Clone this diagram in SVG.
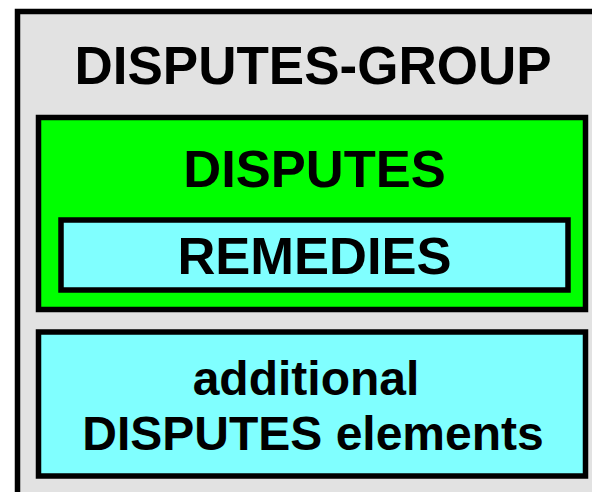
<svg xmlns="http://www.w3.org/2000/svg" width="592" height="492" viewBox="0 0 592 492">
<style>
.box{stroke:#000;stroke-width:5.5}
.t{font-family:"Liberation Sans",Arial,sans-serif;font-weight:bold;fill:#000;text-anchor:middle}
</style>
<rect width="592" height="492" fill="#fff"/>
<g id="disputes-group">
<rect class="box" x="17.5" y="11.5" width="600" height="500" fill="#e2e2e2"/>
<text class="t" x="313" y="84" font-size="53">DISPUTES-GROUP</text>
</g>
<g id="disputes">
<rect class="box" x="38.5" y="117.5" width="547" height="192" fill="#00ff00"/>
<text class="t" x="314.5" y="187" font-size="52.5">DISPUTES</text>
</g>
<g id="remedies">
<rect class="box" x="61" y="220" width="507" height="70" fill="#80ffff"/>
<text class="t" x="314.5" y="274" font-size="52.5">REMEDIES</text>
</g>
<g id="additional">
<rect class="box" x="38.5" y="332" width="547" height="144" fill="#80ffff"/>
<text class="t" x="306" y="395" font-size="48">additional</text>
<text class="t" x="313" y="450" font-size="48">DISPUTES elements</text>
</g>
<g id="connectors"/>
</svg>
